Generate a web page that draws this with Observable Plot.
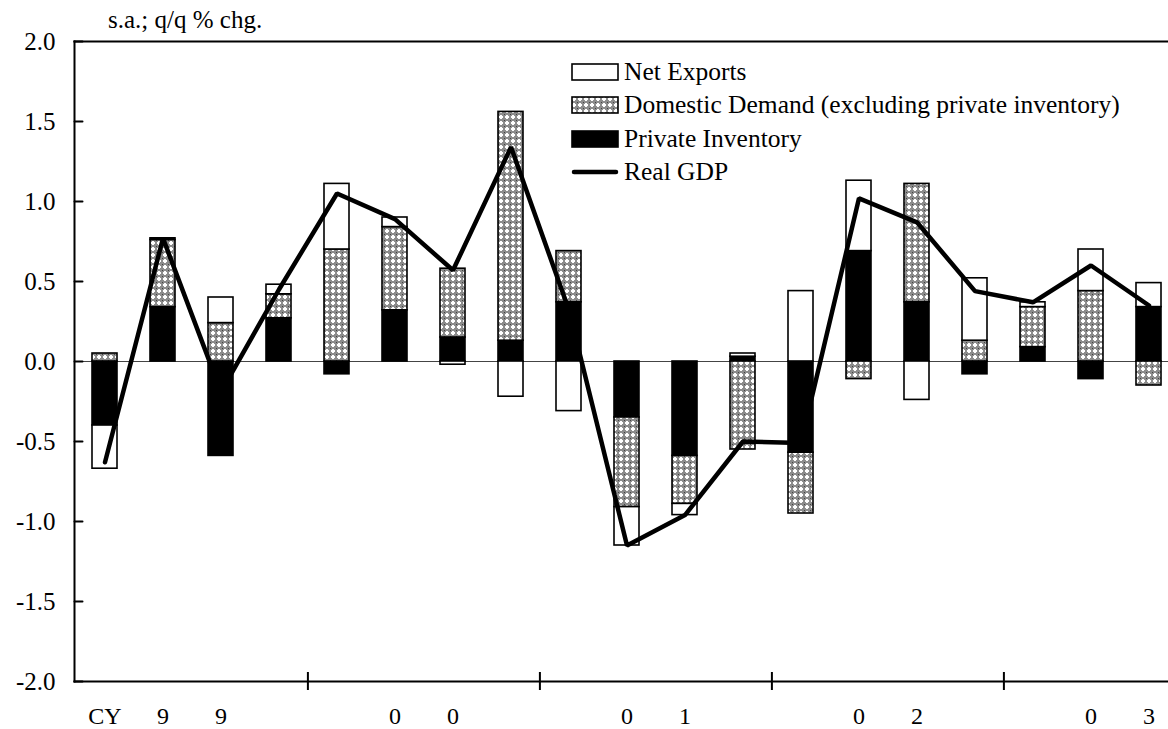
<!DOCTYPE html>
<html>
<head>
<meta charset="utf-8">
<script src="https://cdn.jsdelivr.net/npm/d3@7"></script>
<script src="https://cdn.jsdelivr.net/npm/@observablehq/plot@0.6"></script>
<style>
  html, body { margin: 0; padding: 0; background: white; overflow: hidden; }
  #wrap { position: relative; width: 1168px; height: 729px; font-family: "Liberation Serif", "Times New Roman", serif; color: black; }
  #unit { position: absolute; left: 108px; top: 5px; font-size: 25px; line-height: 30px; white-space: nowrap; }
  #legend { position: absolute; left: 571px; top: 55px; font-size: 25.5px; white-space: nowrap; }
  .row { display: flex; align-items: center; height: 33.5px; }
  .row svg { margin-right: 5px; }
  #chart { position: absolute; left: 0; top: 0; }
</style>
</head>
<body>
<div id="wrap">
  <div id="chart"></div>
  <div id="unit">s.a.; q/q % chg.</div>
  <div id="legend"></div>
</div>
<script>
// ---- data ----
const quarters = ["2019Q1","2019Q2","2019Q3","2019Q4","2020Q1","2020Q2","2020Q3","2020Q4",
  "2021Q1","2021Q2","2021Q3","2021Q4","2022Q1","2022Q2","2022Q3","2022Q4","2023Q1","2023Q2","2023Q3"];
const xTickLabels = ["CY","9","9","","","0","0","","","0","1","","","0","2","","","0","3"];
const groupStarts = ["2020Q1","2021Q1","2022Q1","2023Q1"];
const seriesNames = ["Private Inventory","Domestic Demand (excluding private inventory)","Net Exports"];
const privateInventory = [-0.40,0.34,-0.59,0.27,-0.08,0.32,0.15,0.13,0.37,-0.35,-0.59,0.03,-0.57,0.69,0.37,-0.08,0.09,-0.11,0.34];
const domesticDemand = [0.05,0.42,0.24,0.15,0.70,0.52,0.43,1.43,0.32,-0.56,-0.30,-0.55,-0.38,-0.11,0.74,0.13,0.25,0.44,-0.15];
const netExports = [-0.27,0.01,0.16,0.06,0.41,0.06,-0.02,-0.22,-0.31,-0.24,-0.07,0.02,0.44,0.44,-0.24,0.39,0.03,0.26,0.15];
const realGDP = [-0.63,0.77,-0.19,0.45,1.05,0.89,0.57,1.34,0.32,-1.15,-0.96,-0.50,-0.51,1.02,0.87,0.44,0.37,0.60,0.35];
const yTicks = [-2,-1.5,-1,-0.5,0,0.5,1,1.5,2];
const legendItems = ["Net Exports","Domestic Demand (excluding private inventory)","Private Inventory","Real GDP"];

// ---- build tables ----
const seriesValues = [privateInventory, domesticDemand, netExports];
const rows = [];
seriesNames.forEach((s, k) => quarters.forEach((q, i) => rows.push({series: s, quarter: q, value: seriesValues[k][i]})));
const gdpRows = quarters.map((q, i) => ({quarter: q, value: realGDP[i]}));
const labelFor = new Map(quarters.map((q, i) => [q, xTickLabels[i]]));

const W = 1168, H = 729, ML = 74, MT = 41, MB = 48;
const xRange = [ML, 1179.8];
const step = (xRange[1] - xRange[0]) / quarters.length;
const fills = ["black", "url(#ddpat)", "white"];
const tickShape = {draw(ctx, l) { ctx.moveTo(0, 0); ctx.lineTo(0, -l); }};

const chart = Plot.plot({
  width: W, height: H,
  marginTop: MT, marginBottom: MB, marginLeft: ML, marginRight: 0,
  style: {fontFamily: "Liberation Serif, Times New Roman, serif", fontSize: "25px", color: "black", background: "white", overflow: "hidden"},
  x: {type: "band", domain: quarters, range: xRange, paddingInner: 0.57, paddingOuter: 0.285},
  y: {domain: [-2, 2]},
  color: {domain: seriesNames, range: fills},
  marks: [
    Plot.ruleY([0], {stroke: "#444", strokeWidth: 1.2}),
    Plot.barY(rows, {x: "quarter", y: "value", fill: "series", z: "series", stroke: "black", strokeWidth: 1.6}),
    Plot.line(gdpRows, {x: "quarter", y: "value", stroke: "black", strokeWidth: 4.5, strokeLinejoin: "miter", strokeLinecap: "round"}),
    Plot.frame({anchor: "top", stroke: "black", strokeWidth: 2}),
    Plot.frame({anchor: "bottom", stroke: "black", strokeWidth: 2}),
    Plot.frame({anchor: "left", stroke: "black", strokeWidth: 2}),
    Plot.vector(yTicks, {y: d => d, frameAnchor: "left", length: 8, rotate: 90, anchor: "start", shape: tickShape, stroke: "black", strokeWidth: 2}),
    Plot.ruleX(groupStarts, {x: d => d, y1: -2, y2: -2, insetTop: -9, insetBottom: -9, dx: -step / 2, stroke: "black", strokeWidth: 2}),
    Plot.axisY({ticks: yTicks, tickSize: 0, tickPadding: 19, tickFormat: d => d.toFixed(1), label: null, fontSize: 25}),
    Plot.axisX({tickSize: 0, tickPadding: 25, tickFormat: d => labelFor.get(d), label: null, fontSize: 24})
  ]
});

d3.select(chart).insert("defs", ":first-child").html(
  `<pattern id="ddpat" width="6" height="6" patternUnits="userSpaceOnUse">
     <rect width="6" height="6" fill="#8c8c8c"/>
     <rect x="2" y="1" width="2" height="4" fill="white"/>
     <rect x="1" y="2" width="4" height="2" fill="white"/>
     <rect x="0" y="0" width="1" height="1" fill="#444"/>
   </pattern>`);
document.getElementById("chart").appendChild(chart);

// legend
const legend = d3.select("#legend");
legendItems.forEach((name, i) => {
  const row = legend.append("div").attr("class", "row");
  const s = row.append("svg").attr("width", 48).attr("height", 18);
  if (i < 3) {
    const f = i === 0 ? "white" : i === 1 ? "url(#ddpat)" : "black";
    s.append("rect").attr("x", 1).attr("y", 1).attr("width", 46).attr("height", 16)
      .attr("fill", f).attr("stroke", "black").attr("stroke-width", 1.6);
  } else {
    s.append("line").attr("x1", 3).attr("x2", 45).attr("y1", 9).attr("y2", 9)
      .attr("stroke", "black").attr("stroke-width", 4.5).attr("stroke-linecap", "round");
  }
  row.append("span").text(name);
});
</script>
</body>
</html>
